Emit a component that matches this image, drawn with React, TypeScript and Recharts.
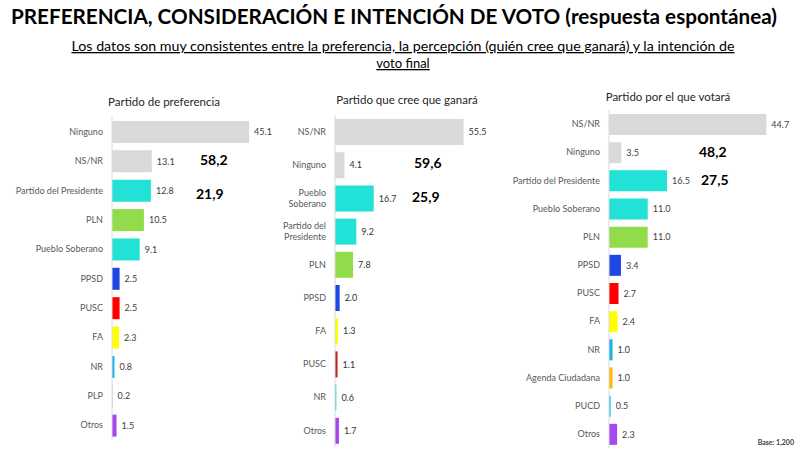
import React from "react";
import { Bar, BarChart, Cell, LabelList, XAxis, YAxis } from "recharts";

// Partido de preferencia
const prefNames = ["Ninguno", "NS/NR", "Partido del Presidente", "PLN", "Pueblo Soberano", "PPSD", "PUSC", "FA", "NR", "PLP", "Otros"];
const prefValues = [45.1, 13.1, 12.8, 10.5, 9.1, 2.5, 2.5, 2.3, 0.8, 0.2, 1.5];
const prefColors = ["#d9d9d9", "#d9d9d9", "#22e1d6", "#92dc4c", "#22e1d6", "#1f47e4", "#ff0000", "#ffff00", "#1ab2ea", "#bfbfbf", "#a646f2"];

// Partido que cree que ganará
const winNames = ["NS/NR", "Ninguno", "Pueblo Soberano", "Partido del Presidente", "PLN", "PPSD", "FA", "PUSC", "NR", "Otros"];
const winValues = [55.5, 4.1, 16.7, 9.2, 7.8, 2.0, 1.3, 1.1, 0.6, 1.7];
const winColors = ["#d9d9d9", "#d9d9d9", "#22e1d6", "#22e1d6", "#92dc4c", "#1f47e4", "#ffff00", "#c0201e", "#3cd2ee", "#a646f2"];

// Partido por el que votará
const voteNames = ["NS/NR", "Ninguno", "Partido del Presidente", "Pueblo Soberano", "PLN", "PPSD", "PUSC", "FA", "NR", "Agenda Ciudadana", "PUCD", "Otros"];
const voteValues = [44.7, 3.5, 16.5, 11.0, 11.0, 3.4, 2.7, 2.4, 1.0, 1.0, 0.5, 2.3];
const voteColors = ["#d9d9d9", "#d9d9d9", "#22e1d6", "#22e1d6", "#92dc4c", "#1f47e4", "#ff0000", "#ffff00", "#1ab2ea", "#ffb800", "#2ccbf2", "#a646f2"];

// grouped totals written beside the charts
const prefTotals = ["58,2", "21,9"];
const winTotals = ["59,6", "25,9"];
const voteTotals = ["48,2", "27,5"];

const FONT = "Lato, 'Open Sans', sans-serif";

const toRows = (names: string[], values: number[]) => names.map((name, i) => ({ name, value: values[i] }));

const Tick = (props: any) => {
  const { x, y, payload, wrap } = props;
  const label: string = payload.value;
  let lines = [label];
  if (wrap && label.length > wrap) {
    lines = [];
    let cur = "";
    for (const w of label.split(" ")) {
      const next = cur ? cur + " " + w : w;
      if (next.length > wrap && cur) {
        lines.push(cur);
        cur = w;
      } else cur = next;
    }
    if (cur) lines.push(cur);
  }
  const lh = 11;
  const start = y - ((lines.length - 1) * lh) / 2;
  return (
    <text x={x - 1} y={start} textAnchor="end" fill="#595959" fontSize={9} fontFamily={FONT}>
      {lines.map((l, i) => (
        <tspan key={i} x={x - 1} y={start + i * lh} dy="0.35em">
          {l}
        </tspan>
      ))}
    </text>
  );
};

type PanelProps = {
  names: string[];
  values: number[];
  colors: string[];
  left: number;
  top: number;
  yWidth: number;
  plotW: number;
  height: number;
  max: number;
  barSize: number;
  rightPad: number;
  wrap?: number;
  labelColor: string;
};

const Panel = (p: PanelProps) => (
  <div style={{ position: "absolute", left: p.left, top: p.top }}>
    <BarChart
      layout="vertical"
      width={p.yWidth + p.plotW + p.rightPad}
      height={p.height}
      data={toRows(p.names, p.values)}
      margin={{ top: 0, right: p.rightPad, bottom: 0, left: 0 }}
    >
      <XAxis type="number" hide domain={[0, p.max]} />
      <YAxis
        type="category"
        dataKey="name"
        width={p.yWidth}
        interval={0}
        tickLine={false}
        axisLine={{ stroke: "#d9d9d9" }}
        tick={<Tick wrap={p.wrap} />}
      />
      <Bar dataKey="value" barSize={p.barSize} isAnimationActive={false}>
        {p.values.map((_, i) => (
          <Cell key={i} fill={p.colors[i]} />
        ))}
        <LabelList
          dataKey="value"
          position="right"
          offset={5}
          formatter={(v: any) => Number(v).toFixed(1)}
          fill={p.labelColor}
          fontSize={9}
          fontFamily={FONT}
        />
      </Bar>
    </BarChart>
  </div>
);

const Big = ({ x, y, children }: { x: number; y: number; children: React.ReactNode }) => (
  <text x={x} y={y} fontSize={14} fontWeight="bold" fill="#000" fontFamily={FONT}>
    {children}
  </text>
);

export default function App() {
  return (
    <div style={{ position: "absolute", left: 0, top: 0, width: 800, height: 453, background: "#fff", fontFamily: FONT }}>
      <svg width={800} height={453} style={{ position: "absolute", left: 0, top: 0 }}>
        <text x={394} y={24} textAnchor="middle" fontSize={20.5} fontWeight="bold" fill="#000" textLength={766} lengthAdjust="spacingAndGlyphs" fontFamily={FONT}>
          PREFERENCIA, CONSIDERACIÓN E INTENCIÓN DE VOTO (respuesta espontánea)
        </text>
        <text x={403} y={51} textAnchor="middle" fontSize={13} fill="#000" textLength={663} lengthAdjust="spacingAndGlyphs" fontFamily={FONT} style={{ textDecoration: "underline" }}>
          Los datos son muy consistentes entre la preferencia, la percepción (quién cree que ganará) y la intención de
        </text>
        <text x={403} y={68} textAnchor="middle" fontSize={13} fill="#000" fontFamily={FONT} style={{ textDecoration: "underline" }}>
          voto final
        </text>
        <text x={164} y={106} textAnchor="middle" fontSize={11.5} fill="#262626" fontFamily={FONT}>Partido de preferencia</text>
        <text x={407} y={104} textAnchor="middle" fontSize={11.5} fill="#262626" fontFamily={FONT}>Partido que cree que ganará</text>
        <text x={668} y={101} textAnchor="middle" fontSize={11.5} fill="#262626" fontFamily={FONT}>Partido por el que votará</text>
        <Big x={200} y={165}>{prefTotals[0]}</Big>
        <Big x={196} y={199}>{prefTotals[1]}</Big>
        <Big x={414} y={168}>{winTotals[0]}</Big>
        <Big x={412} y={202}>{winTotals[1]}</Big>
        <Big x={699} y={157}>{voteTotals[0]}</Big>
        <Big x={701} y={185}>{voteTotals[1]}</Big>
        <text x={794} y={445} textAnchor="end" fontSize={7} fontWeight="bold" fill="#404040" fontFamily={FONT}>Base: 1,200</text>
      </svg>
      <Panel names={prefNames} values={prefValues} colors={prefColors} left={0} top={117} yWidth={112} plotW={152} height={323} max={50} barSize={22} rightPad={30} labelColor="#404040" />
      <Panel names={winNames} values={winValues} colors={winColors} left={230} top={115} yWidth={105} plotW={139} height={332} max={60} barSize={26} rightPad={30} wrap={12} labelColor="#333333" />
      <Panel names={voteNames} values={voteValues} colors={voteColors} left={480} top={110} yWidth={129} plotW={176} height={338} max={50} barSize={21} rightPad={15} labelColor="#404040" />
    </div>
  );
}
